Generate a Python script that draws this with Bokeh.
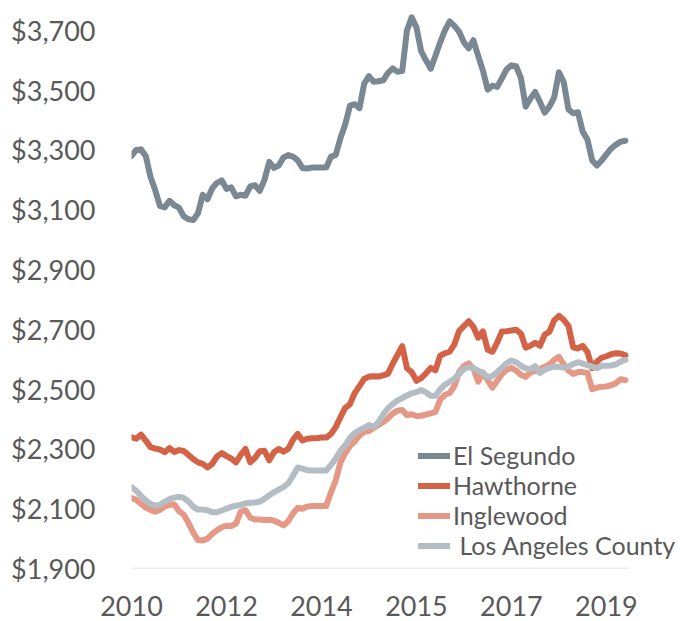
from bokeh.plotting import figure
from bokeh.models import Range1d, FixedTicker, NumeralTickFormatter, Legend, LegendItem
from bokeh.embed import file_html
from bokeh.resources import INLINE

# Observations (index positions along the x axis)
tick_positions = [0, 20, 40, 60, 80, 100]
tick_labels = ["2010", "2012", "2014", "2015", "2017", "2019"]

el_segundo = [3280, 3300, 3302, 3280, 3210, 3165, 3112, 3108, 3130, 3115,
              3107, 3078, 3068, 3066, 3088, 3150, 3135, 3172, 3190, 3198,
              3170, 3175, 3145, 3150, 3147, 3178, 3182, 3163, 3200, 3260,
              3240, 3248, 3275, 3283, 3278, 3265, 3240, 3238, 3241, 3241,
              3241, 3241, 3278, 3283, 3340, 3385, 3448, 3453, 3440, 3522,
              3547, 3528, 3530, 3533, 3558, 3573, 3562, 3564, 3700, 3744,
              3710, 3630, 3600, 3572, 3615, 3660, 3700, 3730, 3715, 3695,
              3660, 3640, 3667, 3615, 3565, 3502, 3515, 3511, 3540, 3570,
              3583, 3580, 3540, 3445, 3472, 3494, 3461, 3425, 3445, 3476,
              3560, 3528, 3436, 3423, 3426, 3362, 3335, 3265, 3248, 3265,
              3285, 3305, 3318, 3328, 3331]

hawthorne = [2339, 2334, 2348, 2328, 2306, 2301, 2298, 2289, 2303, 2290,
             2296, 2293, 2280, 2266, 2255, 2250, 2238, 2250, 2275, 2286,
             2276, 2268, 2255, 2280, 2300, 2255, 2270, 2292, 2294, 2262,
             2289, 2300, 2291, 2300, 2330, 2350, 2328, 2334, 2336, 2336,
             2338, 2338, 2350, 2373, 2406, 2437, 2450, 2487, 2510, 2534,
             2542, 2543, 2542, 2546, 2552, 2585, 2614, 2644, 2570, 2557,
             2528, 2537, 2553, 2571, 2563, 2612, 2620, 2625, 2650, 2695,
             2711, 2727, 2708, 2672, 2693, 2632, 2625, 2656, 2693, 2694,
             2696, 2699, 2685, 2639, 2645, 2655, 2645, 2682, 2692, 2730,
             2745, 2732, 2712, 2640, 2636, 2645, 2625, 2570, 2592, 2605,
             2610, 2617, 2620, 2619, 2613]

inglewood = [2136, 2130, 2116, 2104, 2096, 2090, 2096, 2108, 2113, 2114,
             2092, 2080, 2052, 2020, 1995, 1994, 2000, 2016, 2028, 2038,
             2043, 2042, 2050, 2090, 2095, 2070, 2064, 2064, 2062, 2063,
             2060, 2053, 2044, 2058, 2084, 2103, 2100, 2107, 2109, 2109,
             2109, 2109, 2155, 2195, 2255, 2285, 2310, 2325, 2345, 2357,
             2360, 2370, 2380, 2390, 2402, 2418, 2428, 2430, 2413, 2416,
             2410, 2411, 2415, 2419, 2424, 2465, 2481, 2487, 2510, 2558,
             2578, 2586, 2568, 2525, 2556, 2530, 2505, 2528, 2550, 2565,
             2571, 2562, 2548, 2541, 2556, 2560, 2568, 2575, 2582, 2598,
             2608, 2583, 2562, 2551, 2557, 2557, 2554, 2500, 2505, 2508,
             2509, 2513, 2520, 2533, 2530]

la_county = [2172, 2160, 2143, 2128, 2116, 2110, 2113, 2123, 2132, 2137,
             2140, 2136, 2124, 2107, 2097, 2097, 2095, 2088, 2088, 2094,
             2100, 2106, 2110, 2113, 2118, 2120, 2121, 2124, 2133, 2145,
             2155, 2164, 2172, 2185, 2210, 2238, 2234, 2229, 2228, 2228,
             2228, 2228, 2246, 2268, 2294, 2312, 2337, 2353, 2363, 2371,
             2380, 2374, 2390, 2415, 2436, 2450, 2462, 2470, 2479, 2486,
             2490, 2497, 2489, 2478, 2478, 2499, 2515, 2524, 2535, 2551,
             2567, 2574, 2570, 2562, 2553, 2540, 2544, 2557, 2572, 2587,
             2596, 2590, 2578, 2570, 2567, 2577, 2554, 2565, 2571, 2576,
             2574, 2572, 2576, 2584, 2590, 2585, 2580, 2575, 2570, 2578,
             2578, 2579, 2583, 2592, 2598]

y_ticks = [1900, 2100, 2300, 2500, 2700, 2900, 3100, 3300, 3500, 3700]

series_names = ["El Segundo", "Hawthorne", "Inglewood", " Los Angeles County"]
series_colors = ["#7A8894", "#D46246", "#E59885", "#B4BDC4"]

x = list(range(len(el_segundo)))

FONT = "Lato"
TEXT = "#595959"

p = figure(width=680, height=621, output_backend="svg", toolbar_location=None,
           x_range=Range1d(0, 115.6), y_range=Range1d(1900, 3800),
           min_border_left=131, min_border_right=0, min_border_top=0,
           min_border_bottom=53)
p.outline_line_color = None
p.background_fill_color = "white"
p.border_fill_color = "white"
p.grid.grid_line_color = None

# category-axis baseline under the data span
p.line([x[0], x[-1] + 0.8], [y_ticks[0], y_ticks[0]], line_color="#D9D9D9", line_width=1.5)

renderers = []
for vals, col in zip([el_segundo, hawthorne, inglewood, la_county], series_colors):
    r = p.line(x, vals, line_color=col, line_width=6, line_join="round", line_cap="round")
    renderers.append(r)

# y axis
yax = p.yaxis[0]
yax.ticker = FixedTicker(ticks=y_ticks)
yax.formatter = NumeralTickFormatter(format="$0,0")
yax.axis_line_color = None
yax.major_tick_line_color = None
yax.minor_tick_line_color = None
yax.major_tick_out = 0
yax.major_label_standoff = 36
yax.major_label_text_font = FONT
yax.major_label_text_font_size = "27px"
yax.major_label_text_color = TEXT

# x axis
xax = p.xaxis[0]
xax.ticker = FixedTicker(ticks=tick_positions)
xax.major_label_overrides = {t: l for t, l in zip(tick_positions, tick_labels)}
xax.axis_line_color = None
xax.major_tick_line_color = None
xax.minor_tick_line_color = None
xax.major_tick_out = 0
xax.major_label_standoff = 27
xax.major_label_text_font = FONT
xax.major_label_text_font_size = "27px"
xax.major_label_text_color = TEXT

legend = Legend(items=[LegendItem(label=n, renderers=[r]) for n, r in zip(series_names, renderers)],
                location=(287, 8), orientation="vertical",
                label_text_font=FONT, label_text_font_size="25px", label_text_color=TEXT,
                glyph_width=32, glyph_height=29, label_height=29, label_standoff=3,
                spacing=-1, padding=0, margin=0,
                border_line_color=None, background_fill_alpha=0)
p.add_layout(legend, "center")

open("out.html", "w").write(file_html(p, INLINE))
